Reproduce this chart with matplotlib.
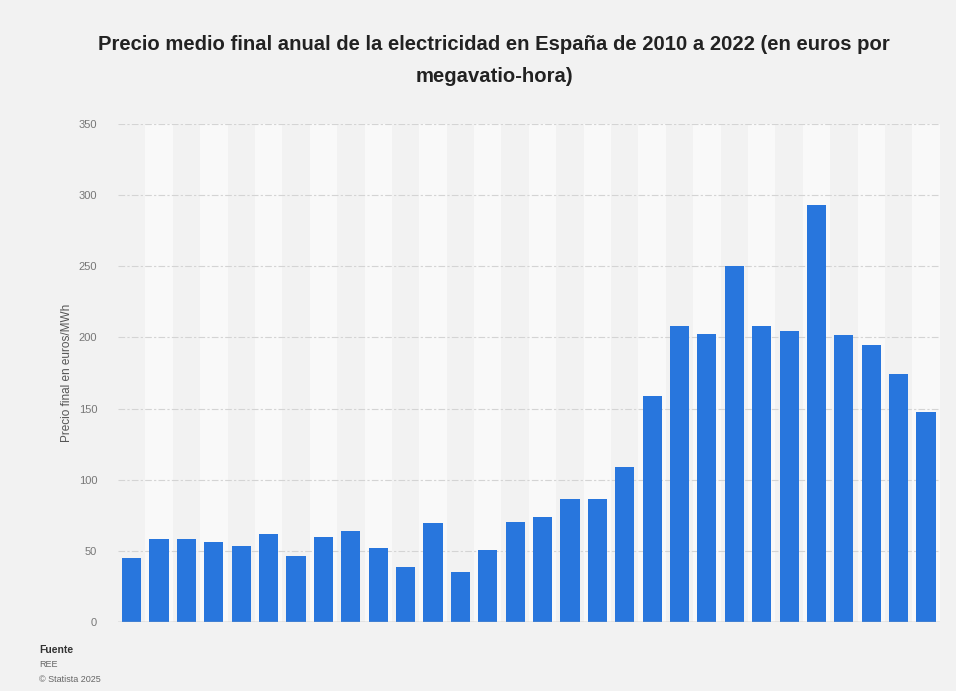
import numpy as np
import matplotlib
matplotlib.use("Agg")
import matplotlib.pyplot as plt

plt.rcParams['font.family'] = ['Liberation Sans', 'DejaVu Sans']

# precio final medio (euros/MWh), una barra por periodo
prices = [44.9, 58.2, 58.2, 56.6, 53.5, 62.2, 46.7, 60.1, 63.9, 52.3,
          38.9, 69.7, 35.4, 50.7, 70.2, 73.9, 86.6, 86.6, 109.2, 159.0,
          208.0, 202.6, 250.0, 208.0, 204.5, 293.4, 201.5, 194.7, 174.6, 147.8]
yticks = [0, 50, 100, 150, 200, 250, 300, 350]

title = ("Precio medio final anual de la electricidad en España de 2010 a 2022 (en euros por\n"
         "megavatio-hora)")
ylabel = "Precio final en euros/MWh"

bg = "#f2f2f2"
fig = plt.figure(figsize=(9.56, 6.91), dpi=100, facecolor=bg)
ax = fig.add_axes([0.1234, 0.0998, 0.8596, 0.7207])
ax.set_facecolor(bg)

x = np.arange(len(prices))
for i in x:
    if i % 2 == 1:
        ax.axvspan(i - 0.5, i + 0.5, color="#f9f9f9", zorder=0, lw=0)

ax.bar(x, prices, width=0.7, color="#2876dd", zorder=3)

ax.set_xlim(-0.5, len(prices) - 0.5)
ax.set_ylim(0, 350)
ax.set_yticks(yticks)
ax.set_yticklabels([str(t) for t in yticks], fontsize=8, color="#777777")
ax.set_xticks([])
ax.tick_params(axis="y", length=0, pad=15)
ax.yaxis.grid(True, linestyle=(0, (6, 2, 2, 2)), color="#d4d4d4", linewidth=0.8, zorder=1)
ax.axhline(0, color="#aaaaaa", linewidth=1, zorder=4)
for s in ax.spines.values():
    s.set_visible(False)
ax.set_ylabel(ylabel, fontsize=8.5, color="#555555", labelpad=4)

fig.text(0.517, 0.912, title, ha="center", va="center", fontsize=14.6,
         fontweight="bold", color="#222222", linespacing=1.85)

fig.text(0.041, 0.059, "Fuente", fontsize=7.5, fontweight="bold", color="#333333", va="center")
fig.text(0.041, 0.038, "REE", fontsize=6.5, color="#666666", va="center")
fig.text(0.041, 0.016, "© Statista 2025", fontsize=6.5, color="#666666", va="center")

fig.savefig("out.png", dpi=100, facecolor=bg)
